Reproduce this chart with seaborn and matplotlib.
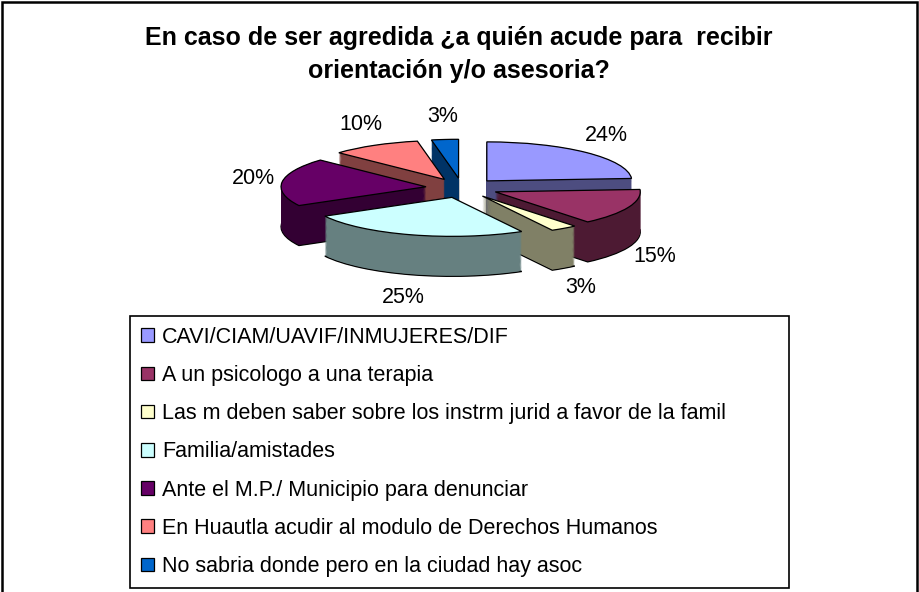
import numpy as np
import matplotlib
matplotlib.use("Agg")
import matplotlib.pyplot as plt
import seaborn as sns
from matplotlib.colors import to_rgb
from matplotlib.patches import Rectangle

# ---- data ----
categories = [
    "CAVI/CIAM/UAVIF/INMUJERES/DIF",
    "A un psicologo a una terapia",
    "Las m deben saber sobre los instrm jurid a favor de la famil",
    "Familia/amistades",
    "Ante el M.P./ Municipio para denunciar",
    "En Huautla acudir al modulo de Derechos Humanos",
    "No sabria donde pero en la ciudad hay asoc",
]
values = [24, 15, 3, 25, 20, 10, 3]
colors = ["#9999FF", "#993366", "#FFFFCC", "#CCFFFF", "#660066", "#FF8080", "#0066CC"]
title = "En caso de ser agredida ¿a quién acude para  recibir\norientación y/o asesoria?"

sns.set_theme(style="white")
plt.rcParams["font.family"] = ["Liberation Sans", "DejaVu Sans"]
plt.rcParams["text.color"] = "black"
plt.rcParams["legend.labelcolor"] = "black"

W, H = 919, 592
fig = plt.figure(figsize=(W / 100, H / 100), dpi=100)
fig.patch.set_facecolor("white")

# pie axes (pixel geometry: centre 462,188 ; rx 145 px ; ry 39 px per unit)
cx, cy, rx_px, ry_px = 462, 188, 145, 39
left_px, right_px, top_px, bot_px = 212, 712, 100, 310
ax = fig.add_axes([left_px / W, 1 - bot_px / H, (right_px - left_px) / W, (bot_px - top_px) / H])

explode = [0.25] * len(values)
depth = 40 / ry_px
side_colors = [tuple(c * 0.5 for c in to_rgb(col)) for col in colors]
common = dict(startangle=90, counterclock=False, explode=explode, radius=1.0)

# extruded sides
ax.pie(values, colors=side_colors, center=(0, -depth),
       wedgeprops=dict(edgecolor="black", linewidth=0.9), **common)
for yc in np.linspace(-depth, 0, 46)[1:]:
    ax.pie(values, colors=side_colors, center=(0, yc),
           wedgeprops=dict(linewidth=0), **common)
# top faces
wedges, texts, autotexts = ax.pie(
    values, colors=colors, center=(0, 0), autopct="%1.0f%%",
    wedgeprops=dict(edgecolor="black", linewidth=0.9),
    textprops=dict(fontsize=15.5, color="black"), **common)

for w, t in zip(wedges, autotexts):
    ang = np.deg2rad((w.theta1 + w.theta2) / 2)
    x = 1.45 * np.cos(ang)
    y = 1.85 * np.sin(ang)
    if y < 0:
        y -= depth
    t.set_position((x, y))
    t.set_ha("center")
    t.set_va("center")

ax.set_aspect("auto")
ax.set_xlim((left_px - cx) / rx_px, (right_px - cx) / rx_px)
ax.set_ylim(-(bot_px - cy) / ry_px, (cy - top_px) / ry_px)
ax.axis("off")

# title
fig.text(459 / W, 1 - 54.5 / H, title, ha="center", va="center",
         fontsize=18, fontweight="bold", linespacing=1.5, color="black")

# legend
leg = fig.legend(wedges, categories, loc="upper left",
                 bbox_to_anchor=(130 / W, 1 - 316 / H, (789 - 130) / W, 0),
                 bbox_transform=fig.transFigure, mode="expand", borderaxespad=0,
                 frameon=True, fancybox=False, edgecolor="black", framealpha=1,
                 fontsize=15.5, labelspacing=0.8, handlelength=0.6, handleheight=0.6,
                 handletextpad=0.4, borderpad=0.5)
leg.get_frame().set_linewidth(1.2)

# outer chart border
fig.patches.append(Rectangle((2 / W, -0.01), 915 / W, 1.01 - 2 / H,
                             transform=fig.transFigure, fill=False,
                             edgecolor="black", linewidth=1.8))

fig.savefig("out.png", dpi=100)
